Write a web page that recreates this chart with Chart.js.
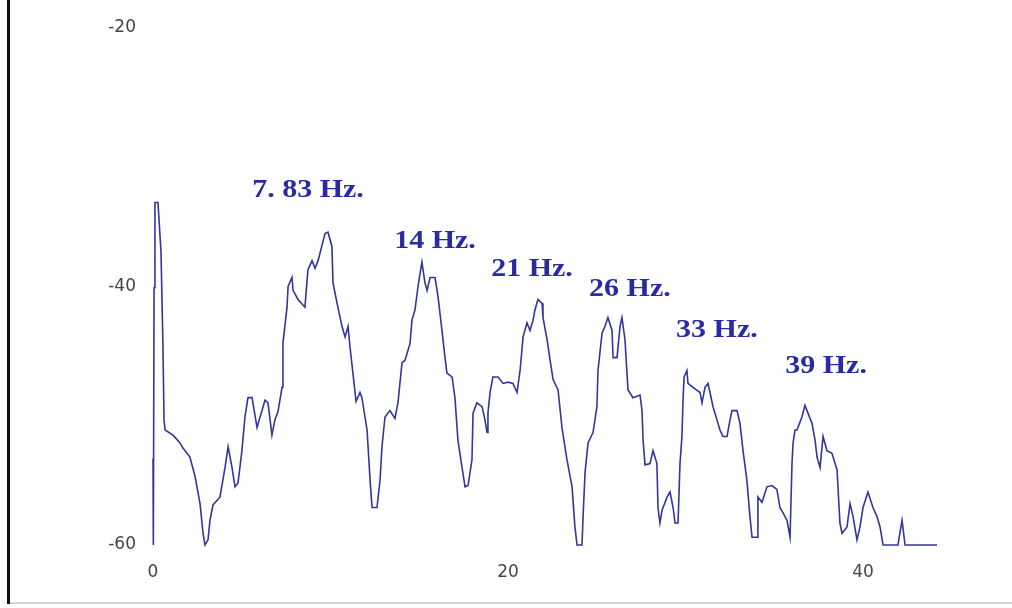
<!DOCTYPE html>
<html>
<head>
<meta charset="utf-8">
<script src="https://cdn.jsdelivr.net/npm/chart.js@4/dist/chart.umd.min.js"></script>
<style>
  html, body { margin: 0; padding: 0; background: #ffffff; }
  #wrap { width: 1012px; height: 608px; position: relative; }
</style>
</head>
<body>
<div id="wrap"><canvas id="spectrum" width="1012" height="608"></canvas></div>
<script>
// Spectrum trace: frequency (Hz) and level (dB)
const freqHz = [
  0, 0.02, 0.06, 0.11, 0.28, 0.45, 0.56, 0.62, 0.68, 1.13,
  1.52, 1.69, 2.08, 2.37, 2.65, 2.82, 2.93, 3.10, 3.21, 3.38,
  3.77, 4.06, 4.23, 4.45, 4.62, 4.79, 5.01, 5.18, 5.35, 5.58,
  5.86, 6.14, 6.31, 6.48, 6.70, 6.87, 7.04, 7.27, 7.32, 7.55,
  7.61, 7.83, 7.89, 8.17, 8.56, 8.73, 8.96, 9.13, 9.30, 9.69,
  9.86, 10.08, 10.14, 10.37, 10.65, 10.82, 10.99, 11.10, 11.27, 11.44,
  11.66, 11.77, 12.06, 12.23, 12.34, 12.62, 12.79, 12.90, 13.07, 13.35,
  13.63, 13.80, 14.03, 14.20, 14.48, 14.59, 14.76, 14.93, 15.15, 15.32,
  15.44, 15.61, 15.89, 16.06, 16.28, 16.45, 16.56, 16.85, 17.01, 17.18,
  17.41, 17.58, 17.75, 17.97, 18.03, 18.25, 18.54, 18.70, 18.82, 18.87,
  18.99, 19.15, 19.44, 19.72, 20.00, 20.28, 20.51, 20.68, 20.85, 21.07,
  21.24, 21.41, 21.52, 21.69, 21.92, 21.97, 22.20, 22.37, 22.54, 22.82,
  23.04, 23.32, 23.61, 23.77, 23.89, 24.17, 24.23, 24.34, 24.51, 24.79,
  25.01, 25.07, 25.30, 25.46, 25.63, 25.86, 25.92, 26.14, 26.31, 26.42,
  26.59, 26.76, 27.04, 27.44, 27.55, 27.61, 27.72, 28.00, 28.17, 28.39,
  28.45, 28.56, 28.68, 28.96, 29.13, 29.30, 29.41, 29.58, 29.69, 29.80,
  29.86, 29.92, 30.08, 30.14, 30.42, 30.82, 30.93, 31.10, 31.27, 31.38,
  31.55, 31.77, 31.94, 32.11, 32.34, 32.51, 32.62, 32.90, 33.07, 33.24,
  33.46, 33.63, 33.75, 34.03, 34.08, 34.31, 34.59, 34.87, 35.15, 35.32,
  35.49, 35.72, 35.89, 36.00, 36.06, 36.17, 36.28, 36.56, 36.73, 36.90,
  37.13, 37.30, 37.41, 37.58, 37.75, 37.97, 38.25, 38.54, 38.70, 38.82,
  39.10, 39.27, 39.44, 39.66, 39.83, 40.00, 40.28, 40.56, 40.79, 40.96,
  41.13, 41.97, 42.20, 42.37, 44.17
];

const levelDb = [
  -53.3, -60, -40.1, -33.5, -33.5, -37.3, -44.5, -50.3, -51.1, -51.5,
  -52.1, -52.5, -53.2, -54.7, -56.8, -59.1, -60, -59.6, -58.1, -56.9,
  -56.3, -54.0, -52.4, -54.0, -55.5, -55.2, -52.7, -50.1, -48.6, -48.6,
  -50.9, -49.6, -48.8, -49.0, -51.5, -50.3, -49.7, -47.8, -44.4, -41.6,
  -40.0, -39.3, -40.3, -41.0, -41.6, -38.7, -38.0, -38.6, -38.0, -35.9,
  -35.8, -36.9, -39.7, -41.3, -43.1, -43.9, -43.1, -44.7, -46.8, -48.9,
  -48.2, -48.6, -51.1, -55.0, -57.1, -57.1, -55.0, -52.4, -50.1, -49.6,
  -50.2, -49.0, -45.9, -45.7, -44.4, -42.6, -41.8, -40.0, -38.1, -39.7,
  -40.3, -39.3, -39.3, -40.8, -43.4, -45.5, -46.7, -47.0, -48.6, -51.9,
  -54.0, -55.5, -55.4, -53.4, -49.8, -49.0, -49.3, -50.3, -51.3, -49.8,
  -48.2, -47.0, -47.0, -47.5, -47.4, -47.5, -48.2, -46.5, -43.9, -42.8,
  -43.4, -42.6, -41.8, -41.0, -41.3, -42.4, -44.1, -45.7, -47.2, -48.0,
  -50.9, -53.4, -55.5, -58.6, -60, -60, -57.8, -54.4, -52.1, -51.3,
  -49.3, -46.5, -43.6, -43.1, -42.4, -43.4, -45.5, -45.5, -43.1, -42.4,
  -44.1, -48.0, -48.6, -48.4, -49.6, -51.9, -53.8, -53.7, -52.7, -53.7,
  -57.1, -58.3, -57.3, -56.3, -55.9, -57.1, -58.3, -58.3, -53.7, -51.6,
  -48.8, -47.0, -46.5, -47.5, -47.8, -48.2, -49.0, -47.8, -47.5, -48.2,
  -49.3, -50.3, -51.1, -51.6, -51.6, -50.3, -49.6, -49.6, -50.6, -52.7,
  -55.0, -57.8, -59.4, -59.4, -56.3, -56.7, -55.5, -55.4, -55.7, -57.1,
  -57.5, -58.1, -59.4, -53.7, -52.1, -51.1, -51.1, -50.1, -49.2, -49.8,
  -50.6, -51.9, -53.2, -54.0, -51.6, -52.7, -52.9, -54.2, -58.3, -59.1,
  -58.6, -56.8, -57.8, -59.6, -58.6, -57.1, -55.9, -57.1, -57.8, -58.6,
  -60, -60, -58.1, -60, -60
];

// Resonance annotations placed in data coordinates
const peakLabels  = ['7. 83 Hz.', '14 Hz.', '21 Hz.', '26 Hz.', '33 Hz.', '39 Hz.'];
const peakLabelHz = [8.73, 15.89, 21.35, 26.87, 31.77, 37.92];
const peakLabelDb = [-32.6, -36.5, -38.7, -40.2, -43.4, -46.2];

// Axis ticks
const xTicks = [0, 20, 40];
const yTicks = [-60, -40, -20];

const tracePoints = freqHz.map((f, i) => ({ x: f, y: levelDb[i] }));

// Page frame: dark rule on the left, light rule along the bottom
const framePlugin = {
  id: 'frame',
  beforeDraw(chart) {
    const ctx = chart.ctx;
    ctx.save();
    ctx.fillStyle = '#ffffff';
    ctx.fillRect(0, 0, chart.width, chart.height);
    ctx.fillStyle = '#d4d4d4';
    ctx.fillRect(8, 602, chart.width - 8, 2);
    ctx.fillStyle = '#111111';
    ctx.fillRect(7, 0, 3, 604);
    ctx.restore();
  }
};

// Bold serif annotations above the resonance peaks
const peakLabelPlugin = {
  id: 'peakLabels',
  afterDatasetsDraw(chart) {
    const ctx = chart.ctx;
    const xs = chart.scales.x, ys = chart.scales.y;
    ctx.save();
    ctx.font = 'bold 25px "Liberation Serif", "Times New Roman", serif';
    ctx.fillStyle = '#2a2aa2';
    ctx.textAlign = 'center';
    ctx.textBaseline = 'middle';
    peakLabels.forEach((txt, i) => {
      const px = xs.getPixelForValue(peakLabelHz[i]);
      const py = ys.getPixelForValue(peakLabelDb[i]);
      ctx.save();
      ctx.translate(px, py);
      ctx.scale(1.2, 1);
      ctx.fillText(txt, 0, 0);
      ctx.restore();
    });
    ctx.restore();
  }
};

new Chart(document.getElementById('spectrum'), {
  type: 'line',
  data: {
    datasets: [{
      data: tracePoints,
      borderColor: '#34349e',
      borderWidth: 1.6,
      pointRadius: 0,
      tension: 0,
      fill: false,
      clip: false
    }]
  },
  options: {
    responsive: false,
    animation: false,
    devicePixelRatio: 1,
    layout: { padding: { top: 28, right: 7, bottom: 0, left: 0 } },
    plugins: {
      legend: { display: false },
      tooltip: { enabled: false }
    },
    scales: {
      x: {
        type: 'linear',
        min: 0,
        max: 48,
        afterBuildTicks(scale) { scale.ticks = xTicks.map(v => ({ value: v })); },
        afterFit(scale) { scale.height = 63; },
        grid: { display: false, drawTicks: false },
        border: { display: false },
        ticks: {
          padding: 17,
          color: '#444444',
          font: { family: '"DejaVu Sans", Verdana, sans-serif', size: 17 },
          maxRotation: 0
        }
      },
      y: {
        type: 'linear',
        min: -60,
        max: -20,
        afterBuildTicks(scale) { scale.ticks = yTicks.map(v => ({ value: v })); },
        afterFit(scale) { scale.width = 153; },
        grid: { display: false, drawTicks: false },
        border: { display: false },
        ticks: {
          padding: 17,
          color: '#444444',
          font: { family: '"DejaVu Sans", Verdana, sans-serif', size: 17 }
        }
      }
    }
  },
  plugins: [framePlugin, peakLabelPlugin]
});
</script>
</body>
</html>
